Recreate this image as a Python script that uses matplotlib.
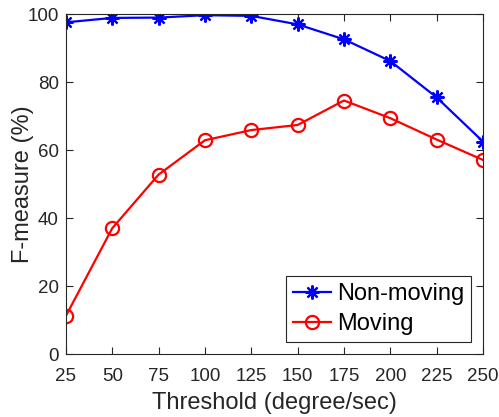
import matplotlib
matplotlib.use("Agg")
import matplotlib.pyplot as plt

# threshold sweep results
thresholds = [25, 50, 75, 100, 125, 150, 175, 200, 225, 250]
non_moving = [97.6, 98.9, 99.0, 99.7, 99.5, 97.0, 92.6, 86.2, 75.5, 62.5]
moving = [11.2, 37.0, 52.8, 62.9, 65.9, 67.4, 74.6, 69.4, 63.1, 57.1]
yticks = [0, 20, 40, 60, 80, 100]

plt.rcParams['font.family'] = ['Liberation Sans', 'DejaVu Sans']

fig = plt.figure(figsize=(4.99, 4.17), dpi=100)
ax = fig.add_axes([0.132, 0.151, 0.836, 0.815])

ax.plot(thresholds, non_moving, color='#0000ff', lw=1.6, marker=(8, 2, 0),
        ms=10, mew=1.6, label='Non-moving')
ax.plot(thresholds, moving, color='#ff0000', lw=1.6, marker='o', ms=9.5,
        mfc='none', mew=1.6, label='Moving')

ax.set_xlim(25, 250)
ax.set_ylim(0, 100)
ax.set_xticks(thresholds)
ax.set_yticks(yticks)
ax.tick_params(direction='in', top=True, right=True, labelsize=13.5,
               colors='#262626', length=5, width=0.8)
ax.tick_params(axis='x', pad=10)
ax.tick_params(axis='y', pad=5)
for s in ax.spines.values():
    s.set_color('#262626')
    s.set_linewidth(0.8)

ax.set_xlabel('Threshold (degree/sec)', fontsize=17, color='#262626', labelpad=5)
ax.set_ylabel('F-measure (%)', fontsize=17, color='#262626', labelpad=-5)

leg = ax.legend(loc='lower right', fontsize=17, fancybox=False, framealpha=1,
                edgecolor='#262626', borderpad=0.3, handlelength=1.6,
                handletextpad=0.25, labelspacing=0.35, borderaxespad=0.5)
leg.get_frame().set_linewidth(0.8)

fig.savefig('out.png', dpi=100)
